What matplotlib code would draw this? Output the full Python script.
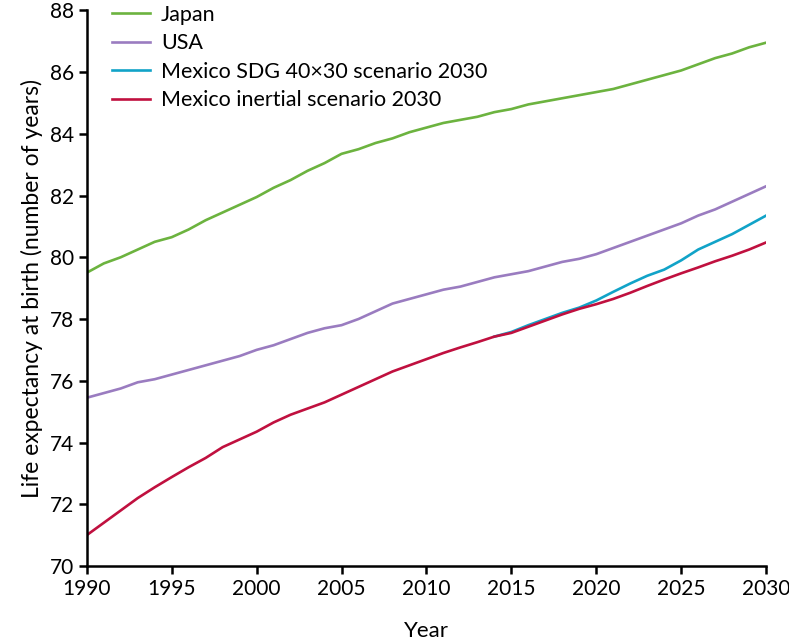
import matplotlib
matplotlib.use("Agg")
import matplotlib.pyplot as plt

plt.rcParams["font.family"] = ["Lato", "DejaVu Sans"]

years = list(range(1990, 2031))

japan = [79.5, 79.8, 80.0, 80.25, 80.5, 80.65, 80.9, 81.2, 81.45, 81.7,
         81.95, 82.25, 82.5, 82.8, 83.05, 83.35, 83.5, 83.7, 83.85, 84.05,
         84.2, 84.35, 84.45, 84.55, 84.7, 84.8, 84.95, 85.05, 85.15, 85.25,
         85.35, 85.45, 85.6, 85.75, 85.9, 86.05, 86.25, 86.45, 86.6, 86.8, 86.95]

usa = [75.45, 75.6, 75.75, 75.95, 76.05, 76.2, 76.35, 76.5, 76.65, 76.8,
       77.0, 77.15, 77.35, 77.55, 77.7, 77.8, 78.0, 78.25, 78.5, 78.65,
       78.8, 78.95, 79.05, 79.2, 79.35, 79.45, 79.55, 79.7, 79.85, 79.95,
       80.1, 80.3, 80.5, 80.7, 80.9, 81.1, 81.35, 81.55, 81.8, 82.05, 82.3]

mexico_inertial = [71.0, 71.4, 71.8, 72.2, 72.55, 72.88, 73.2, 73.5, 73.85, 74.1,
                   74.35, 74.65, 74.9, 75.1, 75.3, 75.55, 75.8, 76.05, 76.3, 76.5,
                   76.7, 76.9, 77.08, 77.25, 77.43, 77.55, 77.75, 77.95, 78.15, 78.33,
                   78.48, 78.65, 78.85, 79.07, 79.28, 79.48, 79.67, 79.87, 80.05, 80.25, 80.48]

sdg_years = list(range(2014, 2031))
mexico_sdg = [77.43, 77.58, 77.8, 78.0, 78.2, 78.37, 78.6, 78.88, 79.15, 79.4,
              79.6, 79.9, 80.25, 80.5, 80.75, 81.05, 81.35]

fig = plt.figure(figsize=(7.89, 6.41), dpi=100)
ax = fig.add_axes([0.110, 0.117, 0.861, 0.867])

ax.plot(years, japan, color="#6cb33f", lw=1.9, label="Japan")
ax.plot(years, usa, color="#9a7cc0", lw=1.9, label="USA")
ax.plot(sdg_years, mexico_sdg, color="#11a3c8", lw=1.9, label="Mexico SDG 40\u00d730 scenario 2030")
ax.plot(years, mexico_inertial, color="#c0103f", lw=1.9, label="Mexico inertial scenario 2030")

ax.set_xlim(1990, 2030)
ax.set_ylim(70, 88)
ax.set_xticks(range(1990, 2031, 5))
ax.set_yticks(range(70, 89, 2))

for side in ("top", "right"):
    ax.spines[side].set_visible(False)
for side in ("left", "bottom"):
    ax.spines[side].set_linewidth(1.8)
ax.tick_params(direction="out", length=6, width=1.8, labelsize=15, pad=3)

ax.set_xlabel("Year", fontsize=16, labelpad=16)
ax.set_ylabel("Life expectancy at birth (number of years)", fontsize=16.5, labelpad=5)

ax.legend(loc="upper left", bbox_to_anchor=(0.008, 1.045), frameon=False,
          fontsize=15.5, handlelength=1.8, handletextpad=0.5, labelspacing=0.4)

fig.savefig("out.png", dpi=100)
